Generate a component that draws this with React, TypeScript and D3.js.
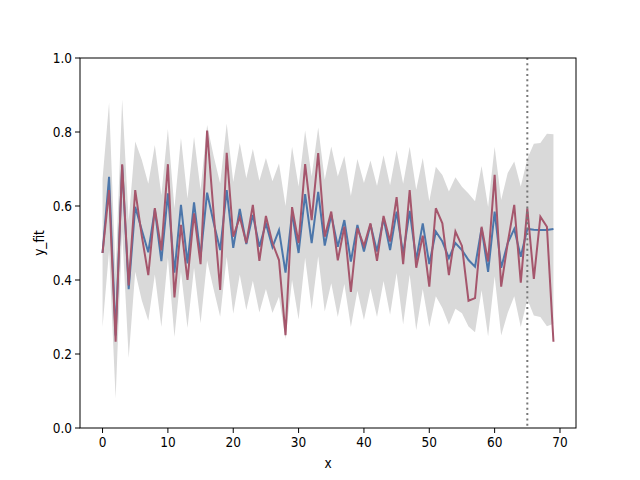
import React from 'react';
import * as d3 from 'd3';

// fitted curve (blue)
const yFit = [
  0.473, 0.679, 0.25, 0.71, 0.375, 0.598, 0.535, 0.475, 0.59, 0.451,
  0.634, 0.42, 0.603, 0.445, 0.61, 0.463, 0.636, 0.555, 0.481, 0.643,
  0.487, 0.592, 0.497, 0.576, 0.49, 0.553, 0.489, 0.535, 0.42, 0.58,
  0.473, 0.632, 0.5, 0.638, 0.493, 0.576, 0.49, 0.562, 0.45, 0.549,
  0.477, 0.55, 0.477, 0.567, 0.481, 0.585, 0.47, 0.587, 0.454, 0.553,
  0.443, 0.531, 0.504, 0.459, 0.5, 0.481, 0.454, 0.436, 0.54, 0.422,
  0.585, 0.433, 0.5, 0.538, 0.463, 0.538, 0.536, 0.535, 0.535, 0.538,
];

// observed values (red)
const yObs = [
  0.473, 0.643, 0.233, 0.713, 0.385, 0.643, 0.52, 0.413, 0.594, 0.48,
  0.713, 0.353, 0.549, 0.4, 0.58, 0.443, 0.804, 0.58, 0.373, 0.744,
  0.517, 0.57, 0.5, 0.603, 0.452, 0.573, 0.5, 0.454, 0.251, 0.597,
  0.5, 0.713, 0.562, 0.743, 0.517, 0.585, 0.453, 0.544, 0.368, 0.54,
  0.492, 0.553, 0.452, 0.573, 0.504, 0.624, 0.443, 0.643, 0.433, 0.52,
  0.382, 0.594, 0.553, 0.413, 0.531, 0.492, 0.344, 0.351, 0.544, 0.45,
  0.684, 0.382, 0.5, 0.603, 0.393, 0.594, 0.403, 0.571, 0.544, 0.233,
];

// half width of the grey band around the fit
const bandHalf = [
  0.2, 0.2, 0.17, 0.178, 0.186, 0.176, 0.19, 0.185, 0.175, 0.178,
  0.174, 0.174, 0.181, 0.175, 0.177, 0.18, 0.183, 0.18, 0.18, 0.18,
  0.178, 0.178, 0.178, 0.178, 0.178, 0.177, 0.178, 0.18, 0.18, 0.18,
  0.18, 0.172, 0.18, 0.174, 0.178, 0.185, 0.19, 0.173, 0.177, 0.178,
  0.185, 0.173, 0.177, 0.17, 0.175, 0.166, 0.19, 0.173, 0.19, 0.177,
  0.17, 0.175, 0.18, 0.18, 0.178, 0.171, 0.18, 0.177, 0.168, 0.175,
  0.175, 0.183, 0.189, 0.182, 0.19, 0.19, 0.232, 0.235, 0.26, 0.256,
];

const xTicks = [0, 10, 20, 30, 40, 50, 60, 70];
const yTicks = [0, 0.2, 0.4, 0.6, 0.8, 1.0];
const cutoffX = 65;

const W = 640;
const H = 480;
const margin = { left: 80, right: 64, top: 58, bottom: 52 };
const font = "'Liberation Sans Narrow', 'DejaVu Sans Condensed', sans-serif";

export default function App() {
  const n = yFit.length;
  const pad = (n - 1) * 0.05;
  const x = d3.scaleLinear().domain([-pad, n - 1 + pad]).range([margin.left, W - margin.right]);
  const y = d3.scaleLinear().domain([0, 1]).range([H - margin.bottom, margin.top]);

  const idx = d3.range(n);
  const area = d3.area<number>()
    .x(i => x(i))
    .y0(i => y(yFit[i] - bandHalf[i]))
    .y1(i => y(yFit[i] + bandHalf[i]));
  const line = (vals: number[]) => d3.line<number>().x(i => x(i)).y(i => y(vals[i]))(idx) || '';

  const x0 = margin.left;
  const x1 = W - margin.right;
  const y0 = H - margin.bottom;
  const y1 = margin.top;

  return (
    <svg width={W} height={H} style={{ position: 'absolute', left: 0, top: 0, background: '#fff' }}
      fontFamily={font}>
      <path d={area(idx) || ''} fill="#d9d9d9" />
      <path d={line(yFit)} fill="none" stroke="#4c76aa" strokeWidth={2} />
      <path d={line(yObs)} fill="none" stroke="#a5566c" strokeWidth={2} />
      <line x1={x(cutoffX)} x2={x(cutoffX)} y1={y1} y2={y0}
        stroke="#777" strokeWidth={2} strokeDasharray="2,3.3" />

      <rect x={x0} y={y1} width={x1 - x0} height={y0 - y1} fill="none" stroke="#000" strokeWidth={1} />

      {xTicks.map(t => (
        <g key={'x' + t}>
          <line x1={x(t)} x2={x(t)} y1={y0} y2={y0 + 5} stroke="#000" />
          <text x={x(t)} y={y0 + 19} fontSize={13.5} textAnchor="middle">{t}</text>
        </g>
      ))}
      {yTicks.map(t => (
        <g key={'y' + t}>
          <line x1={x0 - 5} x2={x0} y1={y(t)} y2={y(t)} stroke="#000" />
          <text x={x0 - 8} y={y(t) + 5} fontSize={13.5} textAnchor="end">{t.toFixed(1)}</text>
        </g>
      ))}
      <text x={(x0 + x1) / 2} y={H - 12} fontSize={13.5} textAnchor="middle">x</text>
      <text transform={`translate(44,${(y0 + y1) / 2}) rotate(-90)`} fontSize={13.5} textAnchor="middle">y_fit</text>
    </svg>
  );
}
